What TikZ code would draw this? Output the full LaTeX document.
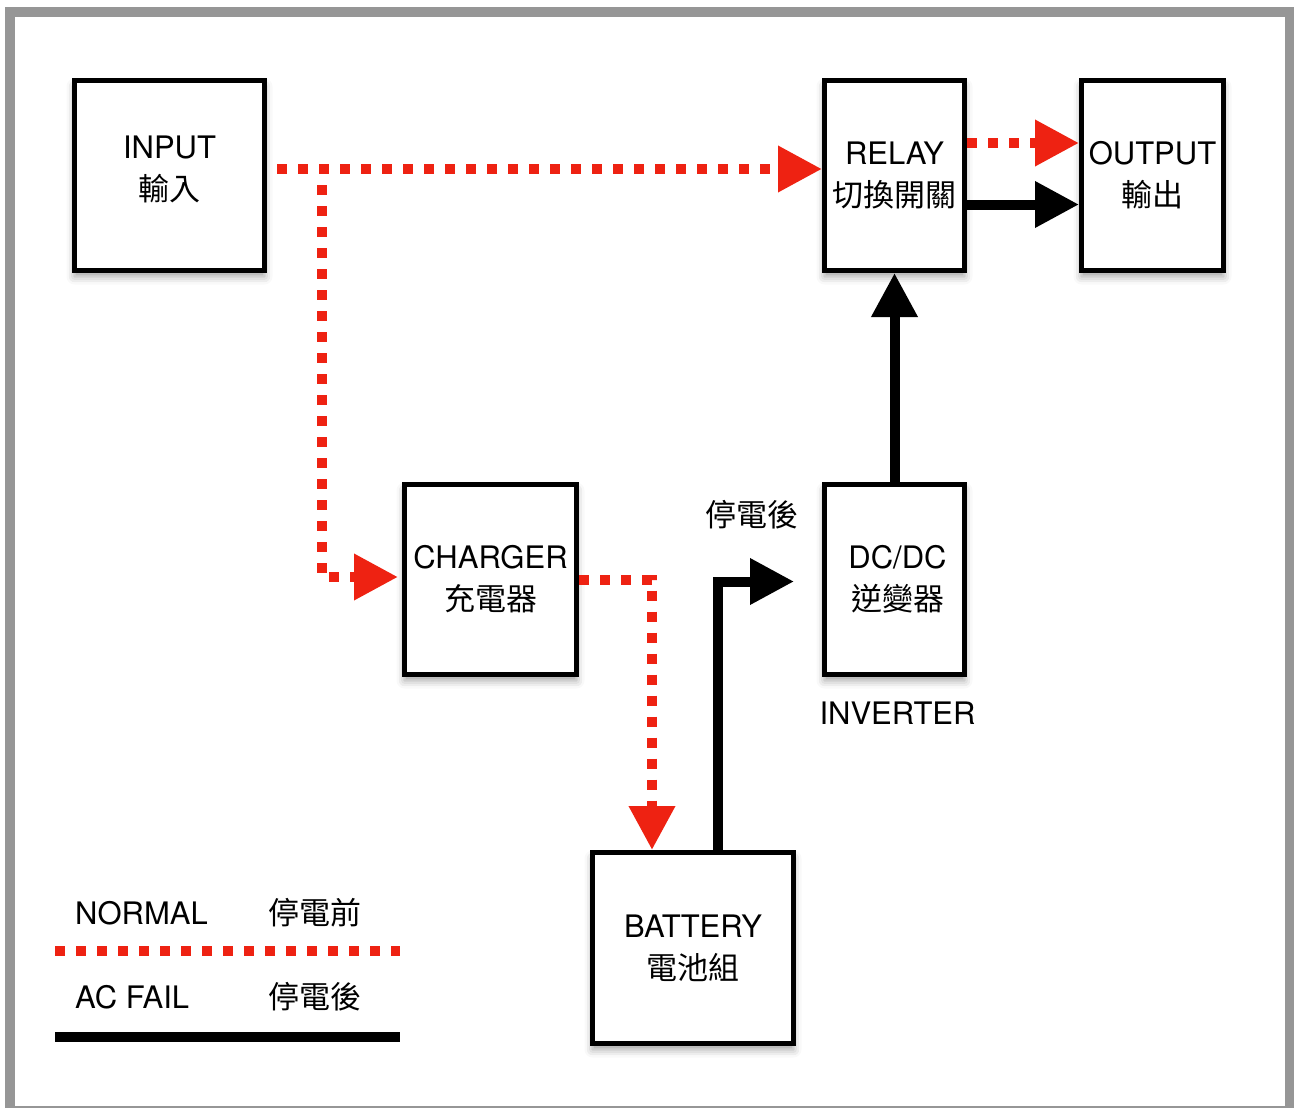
\documentclass[tikz,border=0pt]{standalone}
\usepackage{fontspec}
\setmainfont{TeX Gyre Heros}
\newfontfamily\cjk{Noto Sans CJK TC}
\usetikzlibrary{arrows.meta, positioning, calc, shadows.blur}

\definecolor{upsred}{RGB}{238,34,18}
\definecolor{framegray}{RGB}{150,150,150}

\tikzset{
  block/.style={draw, line width=5pt, fill=white, align=center, inner sep=0pt,
    font=\fontsize{31}{42}\selectfont,
    blur shadow={shadow xshift=0pt, shadow yshift=-6pt, shadow blur radius=8pt, shadow opacity=38}},
  normal/.style={upsred, line width=10pt, dash pattern=on 10pt off 11pt},
  acfail/.style={black, line width=10pt},
  legendtext/.style={inner sep=0pt, font=\fontsize{31}{42}\selectfont},
}

\begin{document}
\begin{tikzpicture}[x=1pt, y=-1pt, >={Triangle[length=44pt, width=44pt]}]
\useasboundingbox (0,0) rectangle (1294,1108);
% outer frame
\draw[framegray, line width=10pt] (9.5,12) rectangle (1289.5,1111);

% blocks
\node[block, minimum width=190pt, minimum height=190pt, text depth=14pt] (input) at (169.5,175.5) {INPUT\\{\cjk 輸入}};
\node[block, minimum width=140pt, minimum height=190pt] (relay) at (894.5,175.5) {RELAY\\{\cjk 切換開關}};
\node[block, minimum width=142pt, minimum height=190pt] (output) at (1152.5,175.5) {OUTPUT\\{\cjk 輸出}};
\node[block, minimum width=172pt, minimum height=190pt] (charger) at (490.5,579.5) {CHARGER\\{\cjk 充電器}};
\node[block, minimum width=140pt, minimum height=190pt] (dcdc) at (894.5,579.5) {\hspace{6pt}DC/DC\\\hspace{6pt}{\cjk 逆變器}};
\node[block, minimum width=201pt, minimum height=191pt] (battery) at (693,948) {BATTERY\\{\cjk 電池組}};

% labels
\node[legendtext] (after) at (751.5,515) {\cjk 停電後};
\node[legendtext] (inverter) at (897.5,713) {INVERTER};

% normal path (before power failure)
\draw[normal, ->] ([xshift=10pt, yshift=6.5pt]input.east) -- ([yshift=6.5pt]relay.west);
\coordinate (split) at ([xshift=55pt, yshift=6.5pt]input.east);
\draw[normal, ->, shorten >=4pt] ([yshift=-16pt]split) |- ([yshift=2.5pt]charger.west);
\draw[normal, ->] (charger.east) -| ([xshift=-41pt]battery.north);
\draw[normal, ->] ([yshift=32.5pt]relay.east) -- ([yshift=32.5pt]output.west);

% AC fail path
\draw[acfail, ->] ([xshift=25pt]battery.north) |- ([xshift=-28pt, yshift=-2pt]dcdc.west);
\draw[acfail, ->] (dcdc.north) -- (relay.south);
\draw[acfail, ->] ([yshift=-29pt]relay.east) -- ([yshift=-29pt]output.west);

% legend
\node[legendtext, anchor=west] (normaltxt) at (75,913) {NORMAL};
\node[legendtext, anchor=west] (beforetxt) at (268,913) {\cjk 停電前};
\coordinate (keyA) at (55,951);
\coordinate (keyB) at (400,951);
\draw[normal] (keyA) -- (keyB);
\node[legendtext, anchor=west] (failtxt) at (75,997) {AC FAIL};
\node[legendtext, anchor=west] (aftertxt) at (268,997) {\cjk 停電後};
\coordinate (keyC) at (55,1037);
\coordinate (keyD) at (400,1037);
\draw[acfail] (keyC) -- (keyD);
\end{tikzpicture}
\end{document}
